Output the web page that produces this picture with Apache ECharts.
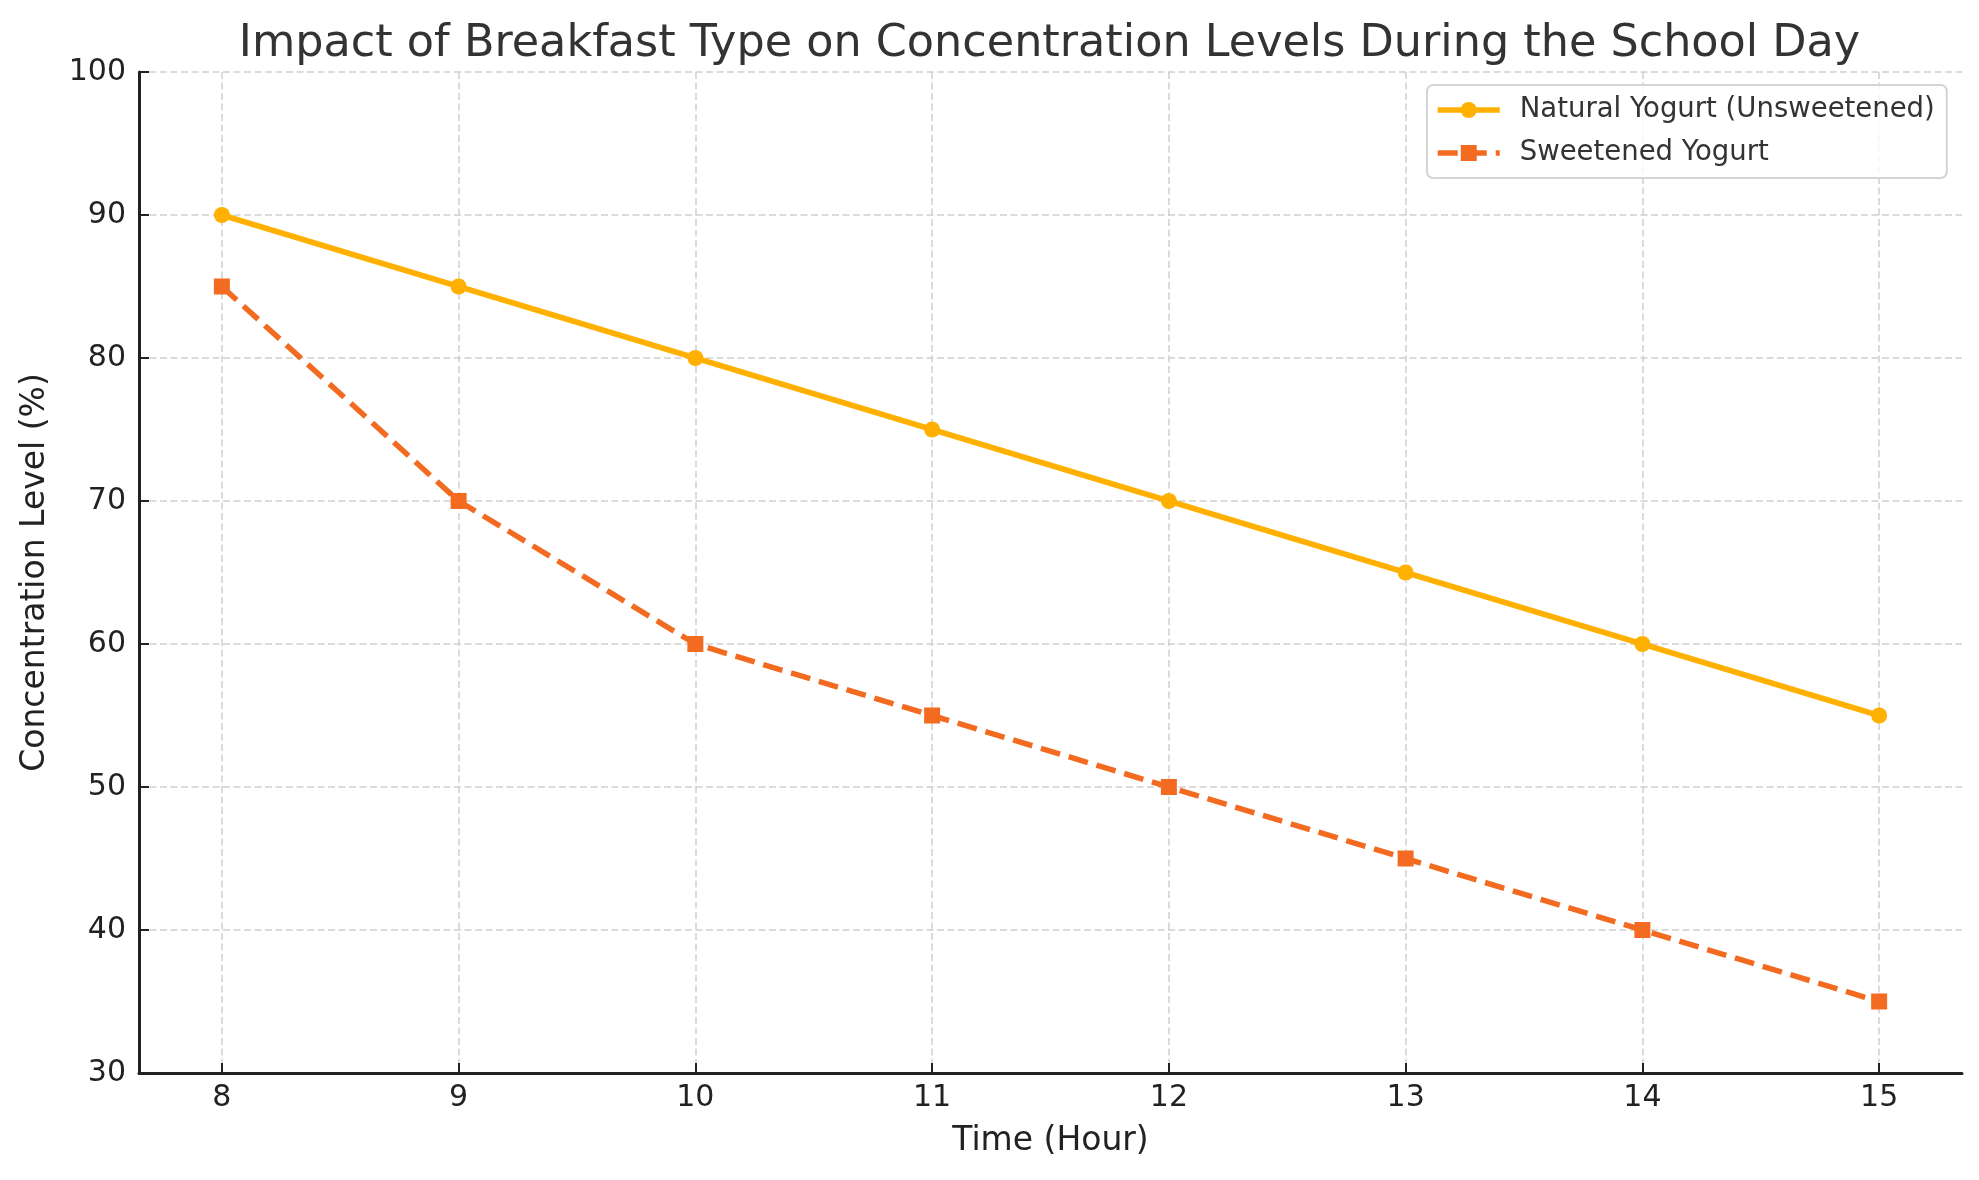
<!DOCTYPE html>
<html>
<head>
<meta charset="utf-8">
<script src="https://cdn.jsdelivr.net/npm/echarts@6/dist/echarts.min.js"></script>
<style>
html,body{margin:0;padding:0;background:#fff;}
#chart{width:1979px;height:1180px;}
</style>
</head>
<body>
<div id="chart"></div>
<script>
const hours = [8, 9, 10, 11, 12, 13, 14, 15];
const naturalYogurt = [90, 85, 80, 75, 70, 65, 60, 55];
const sweetenedYogurt = [85, 70, 60, 55, 50, 45, 40, 35];
const yTicks = [30, 40, 50, 60, 70, 80, 90, 100];
const seriesNames = ['Natural Yogurt (Unsweetened)', 'Sweetened Yogurt'];
const titleText = 'Impact of Breakfast Type on Concentration Levels During the School Day';

const FONT = 'DejaVu Sans';
const chart = echarts.init(document.getElementById('chart'), null, {renderer: 'canvas'});

const pair = (vals) => hours.map((h, i) => [h, vals[i]]);

const gridLine = {show: true, lineStyle: {color: '#d0d0d0', width: 1.5, type: [7, 3.5]}};

chart.setOption({
  animation: false,
  backgroundColor: '#ffffff',
  title: {
    text: titleText,
    left: 1049.5,
    textAlign: 'center',
    top: 22,
    padding: 0,
    textStyle: {fontFamily: FONT, fontSize: 44.5, fontWeight: 'normal', color: '#333333'}
  },
  legend: {
    orient: 'vertical',
    left: 1427,
    top: 85,
    padding: [11, 12, 11, 8],
    itemGap: 15,
    itemWidth: 62,
    itemHeight: 20,
    backgroundColor: 'rgba(255,255,255,0.8)',
    borderColor: '#d4d4d4',
    borderWidth: 2,
    borderRadius: 6,
    lineStyle: {width: 5.5},
    textStyle: {fontFamily: FONT, fontSize: 27.5, color: '#333333', padding: [0, 0, 0, 15]},
    data: seriesNames
  },
  grid: {left: 139, right: 17, top: 72, bottom: 107, containLabel: false},
  xAxis: {
    type: 'value',
    min: 7.65,
    max: 15.35,
    name: 'Time (Hour)',
    nameLocation: 'middle',
    nameGap: 52,
    nameTextStyle: {fontFamily: FONT, fontSize: 33, color: '#222222'},
    axisLine: {show: true, onZero: false, lineStyle: {color: '#222222', width: 3}},
    axisTick: {show: true, inside: true, length: 10, customValues: hours, lineStyle: {color: '#222222', width: 2}},
    axisLabel: {show: true, margin: 10, customValues: hours, fontFamily: FONT, fontSize: 30, color: '#222222'},
    splitLine: gridLine
  },
  yAxis: {
    type: 'value',
    min: 30,
    max: 100,
    interval: 10,
    name: 'Concentration Level (%)',
    nameLocation: 'middle',
    nameGap: 87,
    nameTextStyle: {fontFamily: FONT, fontSize: 33, color: '#222222'},
    axisLine: {show: true, lineStyle: {color: '#222222', width: 3}},
    axisTick: {show: true, inside: true, length: 10, lineStyle: {color: '#222222', width: 2}},
    axisLabel: {show: true, margin: 13, fontFamily: FONT, fontSize: 30, color: '#222222'},
    splitLine: gridLine
  },
  series: [
    {
      name: seriesNames[0],
      type: 'line',
      data: pair(naturalYogurt),
      symbol: 'circle',
      symbolSize: 16,
      showAllSymbol: true,
      color: '#FFB000',
      itemStyle: {color: '#FFB000'},
      lineStyle: {color: '#FFB000', width: 5.5, type: 'solid'},
      z: 3
    },
    {
      name: seriesNames[1],
      type: 'line',
      data: pair(sweetenedYogurt),
      symbol: 'rect',
      symbolSize: 16,
      showAllSymbol: true,
      color: '#F26B21',
      itemStyle: {color: '#F26B21'},
      lineStyle: {color: '#F26B21', width: 5.5, type: [20, 9], cap: 'butt'},
      z: 3
    }
  ]
});
</script>
</body>
</html>
